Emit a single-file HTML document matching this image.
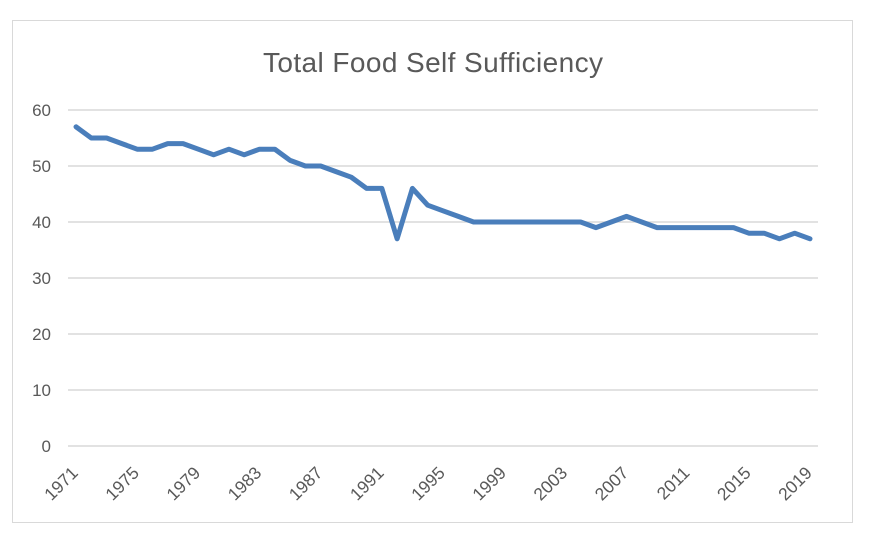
<!DOCTYPE html>
<html><head><meta charset="utf-8"><style>
body{margin:0;background:#fff;font-family:"Liberation Sans",sans-serif}
</style></head><body>
<svg id="chart" width="871" height="544" xmlns="http://www.w3.org/2000/svg">
<rect x="12.5" y="20.5" width="840" height="502" fill="#fff" stroke="#d9d9d9"/>
<text x="433" y="72" text-anchor="middle" font-size="28" fill="#595959" font-family="Liberation Sans, sans-serif" textLength="340">Total Food Self Sufficiency</text>
<g id="grid"></g><g id="yt"></g><g id="xt"></g><g id="series"></g>
</svg>
<script>
const years=[];for(let y=1971;y<=2019;y++)years.push(y);
const values=[57,55,55,54,53,53,54,54,53,52,53,52,53,53,51,50,50,49,48,46,46,37,46,43,42,41,40,40,40,40,40,40,40,40,39,40,41,40,39,39,39,39,39,39,38,38,37,38,37];
const yTicks=[0,10,20,30,40,50,60];
const xLabels=[1971,1975,1979,1983,1987,1991,1995,1999,2003,2007,2011,2015,2019];
const NS="http://www.w3.org/2000/svg";
const xs=y=>76+(y-1971)*(810-76)/48;
const ys=v=>446-v*(446-110)/60;
function mk(t,a,p){const e=document.createElementNS(NS,t);for(const k in a)e.setAttribute(k,a[k]);document.getElementById(p).appendChild(e);return e;}
yTicks.forEach(v=>{
 const l=mk('line',{x1:68,x2:818,y1:ys(v),y2:ys(v),stroke:'#d9d9d9','stroke-width':1.5},'grid');
 
 
 const t=mk('text',{x:51,y:ys(v)+6,'text-anchor':'end','font-size':17,fill:'#595959'},'yt');
 t.textContent=v;
 
 
});
xLabels.forEach(y=>{
 const x=xs(y)+3,yy=474;
 const t=mk('text',{x:x,y:yy,'text-anchor':'end','font-size':17.5,fill:'#595959',transform:`rotate(-45 ${x} ${yy})`},'xt');
 t.textContent=y;
 
 
});
const p=mk('polyline',{points:values.map((v,i)=>xs(years[i])+','+ys(v)).join(' '),fill:'none',stroke:'#4a7ebb','stroke-width':5,'stroke-linejoin':'round','stroke-linecap':'round'},'series');


</script>
</body></html>
